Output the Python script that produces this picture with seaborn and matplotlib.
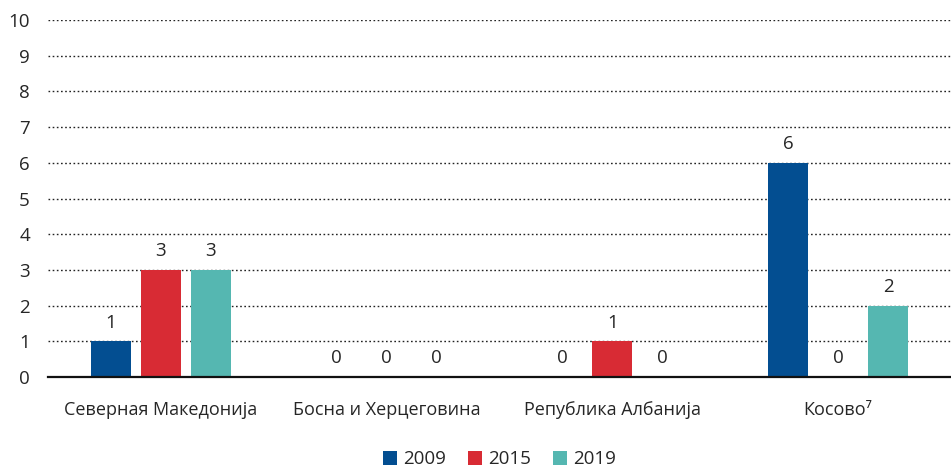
import matplotlib
matplotlib.use("Agg")
import matplotlib.pyplot as plt
from matplotlib.patches import Patch
import pandas as pd
import seaborn as sns

countries = ["Северная Македонија", "Босна и Херцеговина", "Република Албанија", "Косово⁷"]
years = ["2009", "2015", "2019"]
values_2009 = [1, 0, 0, 6]
values_2015 = [3, 0, 1, 0]
values_2019 = [3, 0, 0, 2]
yticks = list(range(0, 11))

colors = ["#034e91", "#d82b34", "#55b7b1"]

df = pd.DataFrame({
    "country": countries * 3,
    "year": [years[0]] * 4 + [years[1]] * 4 + [years[2]] * 4,
    "value": values_2009 + values_2015 + values_2019,
})

sns.set_style("white")
plt.rcParams["font.family"] = ["Open Sans", "DejaVu Sans"]
plt.rcParams["font.size"] = 13.5

fig = plt.figure(figsize=(9.51, 4.70), dpi=100)
ax = fig.add_axes([48 / 951, (470 - 377) / 470, 1 - 48 / 951, (377 - 20) / 470])

sns.barplot(data=df, x="country", y="value", hue="year", order=countries,
            hue_order=years, palette=colors, width=0.665, gap=0.2,
            saturation=1, legend=False, ax=ax, errorbar=None, linewidth=0)

for container in ax.containers:
    ax.bar_label(container, fmt="%d", padding=7, fontsize=13.5)

ax.set_ylim(0, 10)
ax.set_xlim(-0.5, 3.5)
ax.set_yticks(yticks)
ax.yaxis.grid(True, linestyle=(0, (1.2, 1.8)), color="#222222", linewidth=1.0)
ax.set_axisbelow(True)
for side in ["top", "right", "left"]:
    ax.spines[side].set_visible(False)
ax.spines["bottom"].set_color("#111111")
ax.spines["bottom"].set_linewidth(1.6)
ax.spines["bottom"].set_zorder(5)
ax.tick_params(axis="y", length=0, pad=13, labelsize=13.5)
ax.tick_params(axis="x", length=0, pad=17, labelsize=13)
ax.set_xlabel("")
ax.set_ylabel("")

handles = [Patch(facecolor=c, edgecolor="none") for c in colors]
ax.legend(handles, years, loc="upper center", bbox_to_anchor=(0.5, -0.195),
          ncol=3, frameon=False, handlelength=0.75, handleheight=0.75,
          handletextpad=0.3, columnspacing=1.2, fontsize=13.5,
          borderaxespad=0, borderpad=0.2)

fig.savefig("out.png", dpi=100)
